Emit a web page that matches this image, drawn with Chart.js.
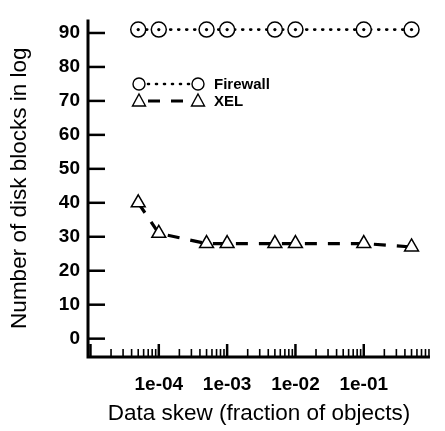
<!DOCTYPE html>
<html>
<head>
<meta charset="utf-8">
<script src="https://cdn.jsdelivr.net/npm/chart.js@4"></script>
<style>
  html, body { margin: 0; padding: 0; background: #fff; }
  #wrap { width: 445px; height: 431px; }
</style>
</head>
<body>
<div id="wrap"><canvas id="chart" width="445" height="431"></canvas></div>
<script>
// data
const skew = [5e-5, 1e-4, 5e-4, 1e-3, 5e-3, 1e-2, 1e-1, 5e-1];
const firewall = [91, 91, 91, 91, 91, 91, 91, 91];
const xel = [40, 31, 28, 28, 28, 28, 28, 27];
const seriesNames = ["Firewall", "XEL"];

// axis ticks
const yTicks = [0, 10, 20, 30, 40, 50, 60, 70, 80, 90];
const xDecades = [1e-5, 1e-4, 1e-3, 1e-2, 1e-1];
const xLabelled = ["1e-04", "1e-03", "1e-02", "1e-01"];

const FONT = "'Liberation Sans', Arial, Helvetica, sans-serif";

function fmtExp(v) {
  const e = Math.round(Math.log10(v));
  return "1e-" + String(-e).padStart(2, "0");
}

function isDecade(v) {
  const m = v / Math.pow(10, Math.floor(Math.log10(v) + 1e-9));
  return Math.abs(m - 1) < 1e-6;
}

// S-style axes: plain lines with ticks pointing inward
const axesPlugin = {
  id: "sAxes",
  afterDatasetsDraw(chart) {
    const { ctx, chartArea: a, scales: { x, y } } = chart;
    ctx.save();
    ctx.strokeStyle = "#000";
    ctx.lineCap = "butt";
    ctx.lineWidth = 3;
    ctx.beginPath();
    ctx.moveTo(a.left, a.top);
    ctx.lineTo(a.left, a.bottom);
    ctx.lineTo(a.right, a.bottom);
    ctx.stroke();

    ctx.lineWidth = 2.5;
    y.ticks.forEach(t => {
      const py = y.getPixelForValue(t.value);
      ctx.beginPath();
      ctx.moveTo(a.left, py);
      ctx.lineTo(a.left + 17, py);
      ctx.stroke();
    });

    x.ticks.forEach(t => {
      const px = x.getPixelForValue(t.value);
      const major = isDecade(t.value);
      ctx.lineWidth = major ? 2.5 : 1.6;
      ctx.beginPath();
      ctx.moveTo(px, a.bottom);
      ctx.lineTo(px, a.bottom - (major ? 13 : 8));
      ctx.stroke();
    });
    ctx.restore();
  }
};

// centre dot in the firewall circles, and the legend drawn like the original
const markPlugin = {
  id: "marks",
  afterDraw(chart) {
    const ctx = chart.ctx;
    ctx.save();
    ctx.fillStyle = "#000";
    chart.getDatasetMeta(0).data.forEach(p => {
      ctx.beginPath();
      ctx.arc(p.x, p.y, 1.6, 0, Math.PI * 2);
      ctx.fill();
    });

    const rows = [
      { y: 84, ds: chart.data.datasets[0] },
      { y: 101, ds: chart.data.datasets[1] }
    ];
    rows.forEach(r => {
      const x0 = 139, x1 = 198;
      ctx.strokeStyle = "#000";
      ctx.lineWidth = r.ds.borderWidth;
      ctx.lineCap = r.ds.borderCapStyle || "butt";
      ctx.setLineDash(r.ds.borderDash);
      ctx.beginPath();
      ctx.moveTo(x0 + 9, r.y);
      ctx.lineTo(x1 - 8, r.y);
      ctx.stroke();
      ctx.setLineDash([]);
      ctx.lineWidth = 1.4;
      [x0, x1].forEach(px => {
        ctx.beginPath();
        if (r.ds.pointStyle === "triangle") {
          ctx.moveTo(px, r.y - 7);
          ctx.lineTo(px + 6.5, r.y + 5);
          ctx.lineTo(px - 6.5, r.y + 5);
          ctx.closePath();
        } else {
          ctx.arc(px, r.y, 6, 0, Math.PI * 2);
        }
        ctx.fillStyle = "#fff";
        ctx.fill();
        ctx.stroke();
      });
      ctx.fillStyle = "#000";
      ctx.font = "bold 15px " + FONT;
      ctx.textBaseline = "middle";
      ctx.fillText(r.ds.label, 214, r.y + 1);
    });
    ctx.restore();
  }
};

new Chart(document.getElementById("chart"), {
  type: "line",
  data: {
    labels: skew,
    datasets: [
      {
        label: seriesNames[0],
        data: skew.map((s, i) => ({ x: s, y: firewall[i] })),
        borderColor: "#000",
        borderWidth: 2.6,
        borderDash: [1, 7],
        borderCapStyle: "round",
        pointStyle: "circle",
        pointRadius: 7.5,
        pointBorderWidth: 1.5,
        pointBorderColor: "#000",
        pointBackgroundColor: "#fff",
        tension: 0
      },
      {
        label: seriesNames[1],
        data: skew.map((s, i) => ({ x: s, y: xel[i] })),
        borderColor: "#000",
        borderWidth: 3.2,
        borderDash: [12, 11],
        pointStyle: "triangle",
        pointRadius: 8,
        pointBorderWidth: 1.5,
        pointBorderColor: "#000",
        pointBackgroundColor: "#fff",
        tension: 0
      }
    ]
  },
  options: {
    responsive: false,
    animation: false,
    layout: { padding: { top: 8, right: 0, left: 0, bottom: 4 } },
    plugins: { legend: { display: false }, tooltip: { enabled: false } },
    scales: {
      x: {
        type: "logarithmic",
        min: 9.2e-6,
        max: 0.93,
        afterBuildTicks(scale) {
          const t = [];
          xDecades.forEach(d => {
            for (let m = 1; m <= 9; m++) {
              const v = d * m;
              if (v >= scale.min && v <= scale.max) t.push({ value: v });
            }
          });
          scale.ticks = t;
        },
        afterFit(scale) { scale.height = 70; },
        grid: { display: false, drawTicks: false },
        border: { display: false },
        ticks: {
          autoSkip: false,
          maxRotation: 0,
          padding: 16,
          color: "#000",
          font: { family: FONT, size: 19, weight: "bold" },
          callback(v) {
            const s = fmtExp(v);
            return isDecade(v) && xLabelled.includes(s) ? s : "";
          }
        },
        title: {
          display: true,
          text: "Data skew (fraction of objects)",
          color: "#000",
          font: { family: FONT, size: 22.5 },
          padding: { top: 0, bottom: 0 }
        }
      },
      y: {
        min: -5.4,
        max: 94,
        afterBuildTicks(scale) {
          scale.ticks = yTicks.map(v => ({ value: v }));
        },
        afterFit(scale) { scale.width = 88; },
        grid: { display: false, drawTicks: false },
        border: { display: false },
        ticks: {
          padding: 8,
          color: "#000",
          font: { family: FONT, size: 19, weight: "bold" }
        },
        title: {
          display: true,
          text: "Number of disk blocks in log",
          color: "#000",
          font: { family: FONT, size: 22.5 },
          padding: { top: 6, bottom: 0 }
        }
      }
    }
  },
  plugins: [axesPlugin, markPlugin]
});
</script>
</body>
</html>
